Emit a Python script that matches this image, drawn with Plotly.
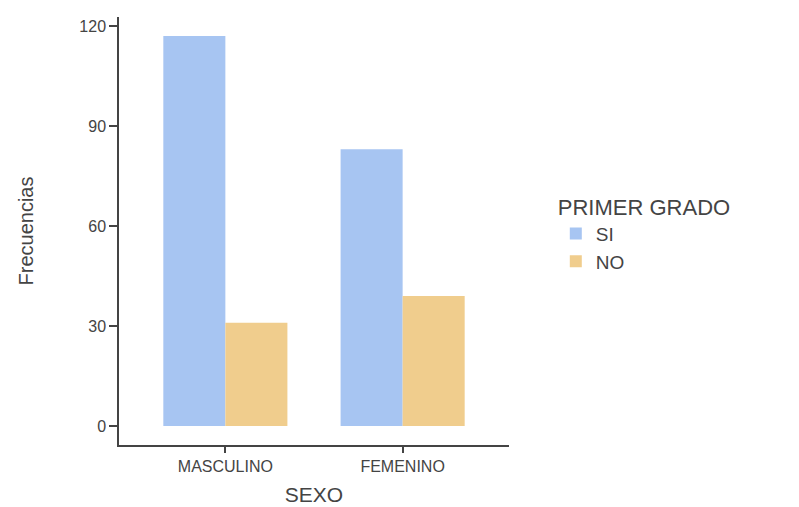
import plotly.graph_objects as go

categories = ["MASCULINO", "FEMENINO"]
si_values = [117, 83]
no_values = [31, 39]
series_names = ["SI", "NO"]
y_ticks = [0, 30, 60, 90, 120]

FONT = "Liberation Sans, Arial, sans-serif"

fig = go.Figure()
fig.add_trace(go.Bar(x=categories, y=si_values, name=series_names[0],
                     marker=dict(color="#a7c5f2", line=dict(width=0))))
fig.add_trace(go.Bar(x=categories, y=no_values, name=series_names[1],
                     marker=dict(color="#f0cd8d", line=dict(width=0))))

fig.update_layout(
    width=799, height=507,
    barmode="group", bargap=0.3, bargroupgap=0,
    plot_bgcolor="white", paper_bgcolor="white",
    margin=dict(l=111, r=298, t=9, b=70),
    font=dict(family=FONT, color="#444444"),
    xaxis=dict(
        range=[-0.6, 1.6],
        showline=True, linecolor="#444444", linewidth=1.5,
        ticks="outside", ticklen=6, tickcolor="#444444", tickwidth=1.5,
        tickfont=dict(size=16, color="#444444"),
        title=dict(text="SEXO", font=dict(size=21, color="#444444"), standoff=13),
        showgrid=False, zeroline=False,
    ),
    yaxis=dict(
        range=[-5.7, 122.7],
        tickvals=y_ticks,
        showline=True, linecolor="#444444", linewidth=1.5,
        ticks="outside", ticklen=8, tickcolor="#444444", tickwidth=1.5,
        tickfont=dict(size=16, color="#444444"),
        title=dict(text="Frecuencias", font=dict(size=20, color="#444444"), standoff=40),
        showgrid=False, zeroline=False,
    ),
    legend=dict(
        title=dict(text="PRIMER GRADO", font=dict(size=22, color="#444444")),
        font=dict(size=19, color="#444444"),
        x=1.12, xanchor="left", y=0.605, yanchor="top",
        tracegroupgap=0, itemsizing="constant",
    ),
)

fig.write_html("out.html")
